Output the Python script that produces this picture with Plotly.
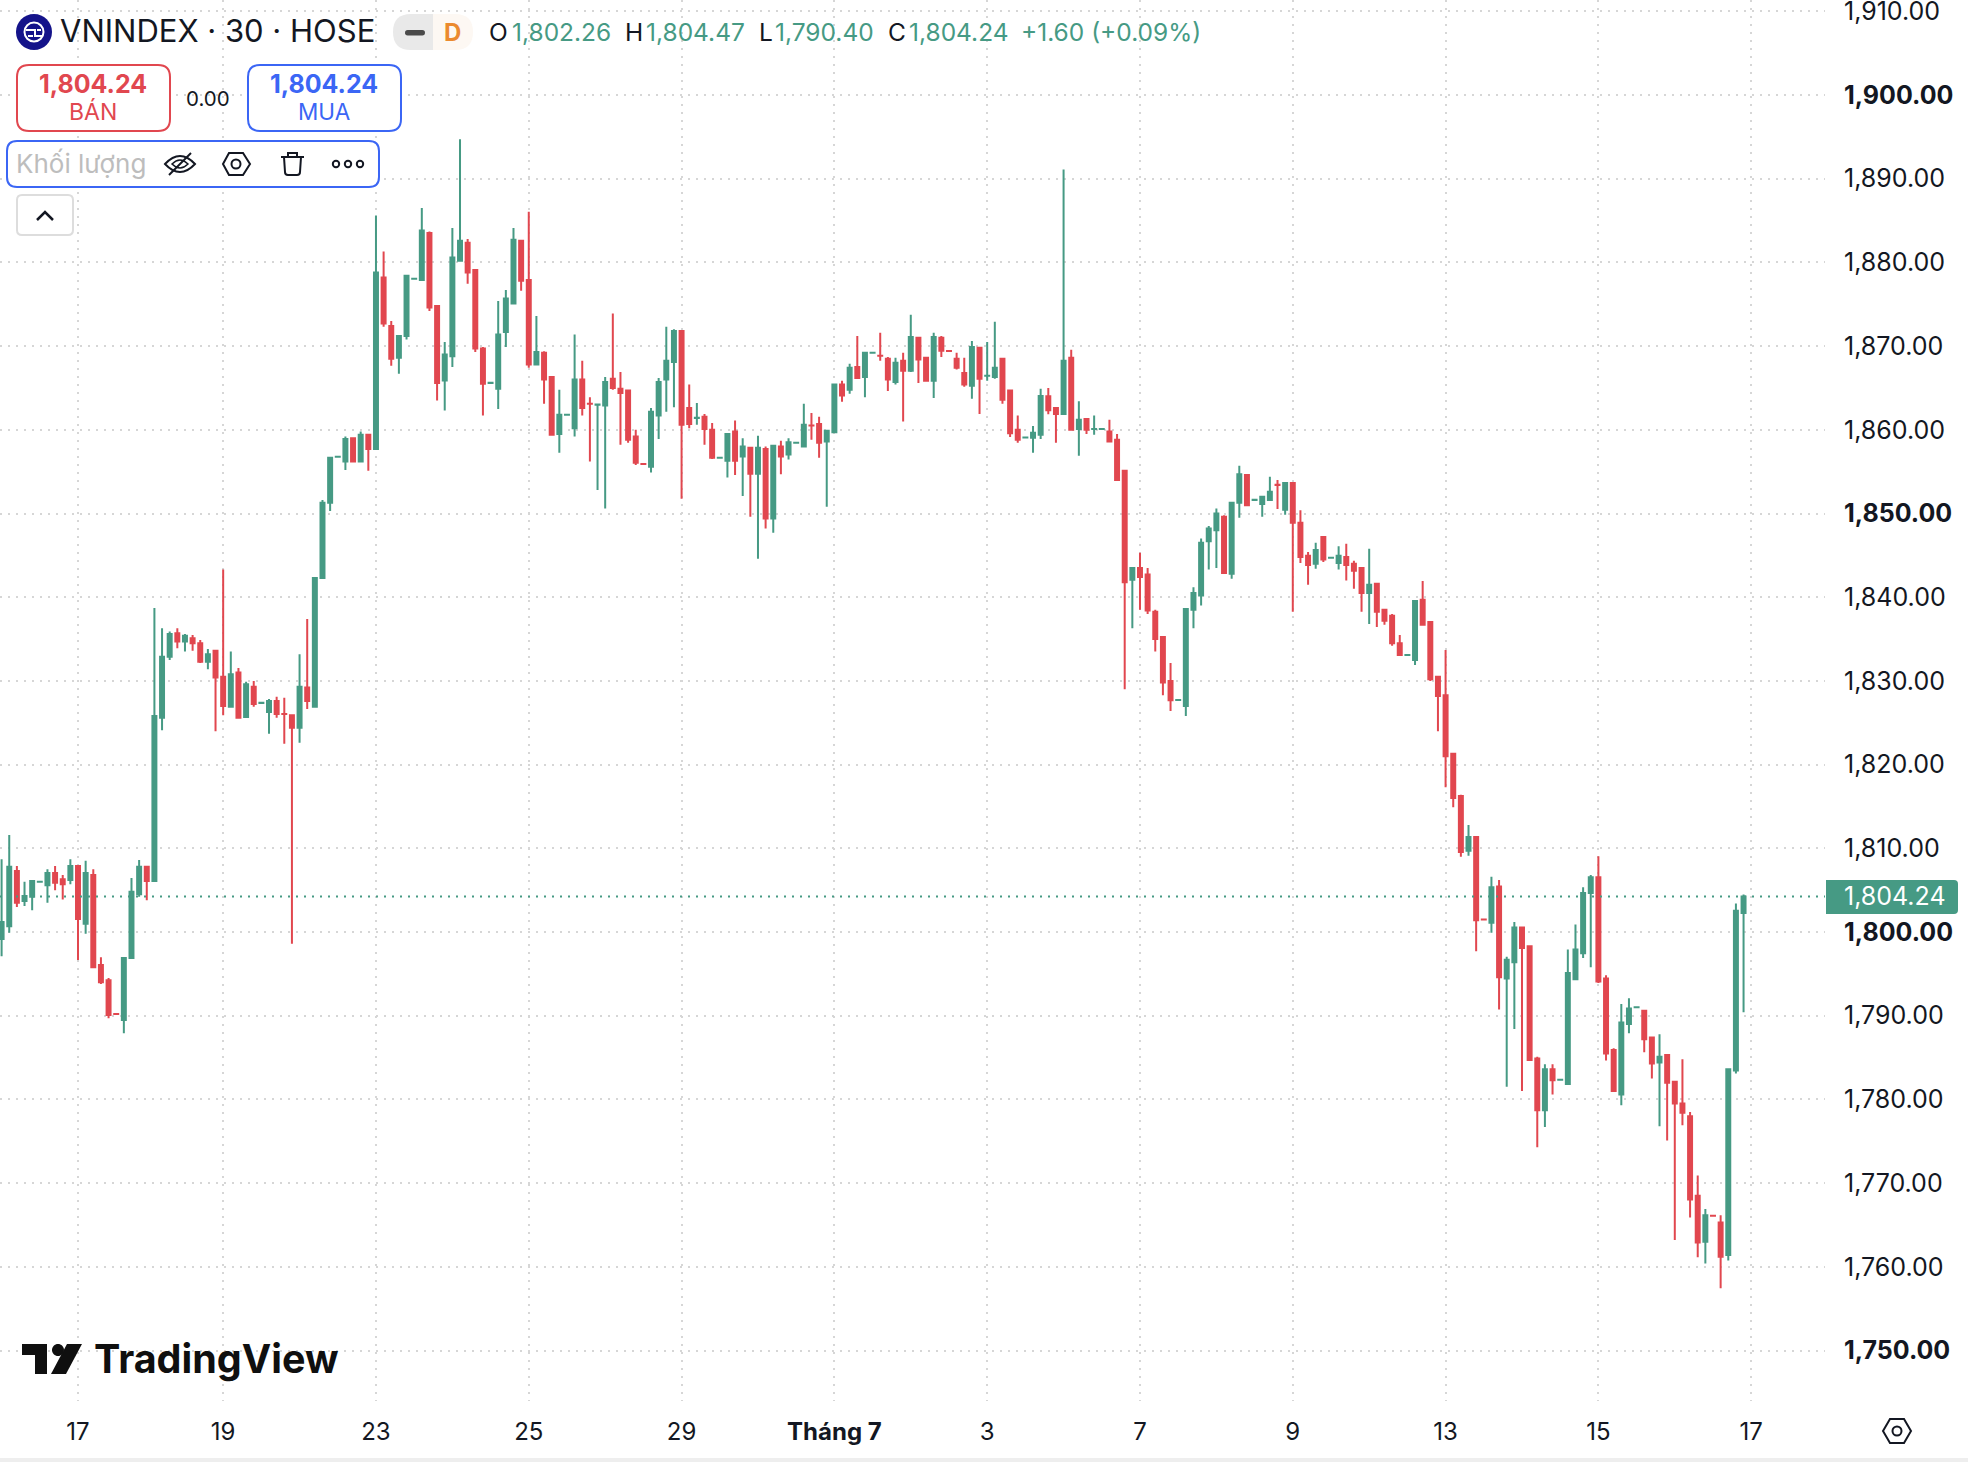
import re
import plotly.graph_objects as go

# 30-minute VNINDEX bars, one entry per session slot
open_prices = [
    1799.16, 1800.7, 1807.3, 1803.7, 1804.2, 1806.0, 1805.6, 1807.05, 1806.3, 1806.2,
    1807.9, 1801.0, 1806.8, 1796.05, 1794.25, 1790.21, 1789.5, 1796.9, 1804.5, 1807.8,
    1806.1, 1825.6, 1832.9, 1835.7, 1834.7, 1835.1, 1834.5, 1832.3, 1833.6, 1830.5,
    1826.9, 1831.0, 1825.7, 1829.3, 1827.37, 1826.3, 1827.6, 1826.05, 1825.9, 1824.4,
    1829.2, 1826.9, 1842.3, 1851.3, 1856.77, 1856.2, 1859.0, 1856.2, 1859.4, 1857.7,
    1878.2, 1872.4, 1868.6, 1871.2, 1878.05, 1877.9, 1883.5, 1874.8, 1865.9, 1868.8,
    1880.2, 1882.35, 1879.1, 1869.7, 1865.6, 1864.9, 1871.7, 1875.1, 1882.6, 1877.9,
    1867.8, 1869.2, 1866.3, 1859.5, 1861.8, 1860.2, 1866.0, 1863.11, 1863.0, 1862.9,
    1866.1, 1864.9, 1864.7, 1859.2, 1855.93, 1855.6, 1861.7, 1866.0, 1868.1, 1871.8,
    1862.6, 1861.42, 1861.55, 1860.0, 1856.65, 1856.3, 1859.8, 1856.8, 1857.85, 1854.75,
    1857.7, 1849.4, 1858.0, 1857.05, 1858.45, 1858.0, 1860.51, 1860.7, 1858.6, 1859.7,
    1865.4, 1864.8, 1867.5, 1866.3, 1869.2, 1868.86, 1868.5, 1865.7, 1868.25, 1867.05,
    1871.0, 1868.6, 1865.85, 1871.0, 1869.43, 1868.5, 1866.8, 1865.25, 1869.8, 1866.45,
    1866.3, 1868.5, 1864.7, 1860.0, 1859.07, 1859.05, 1859.4, 1864.0, 1862.6, 1861.9,
    1868.6, 1860.1, 1861.3, 1860.1, 1860.1, 1859.8, 1858.8, 1855.1, 1842.1, 1843.5,
    1842.7, 1838.25, 1835.25, 1830.0, 1827.72, 1827.0, 1838.5, 1840.2, 1846.7, 1848.0,
    1849.6, 1842.8, 1851.3, 1854.6, 1851.62, 1851.15, 1851.6, 1853.43, 1850.45, 1853.65,
    1848.9, 1844.95, 1844.0, 1847.2, 1844.7, 1844.1, 1844.8, 1844.0, 1843.5, 1840.5,
    1841.6, 1838.5, 1837.8, 1834.5, 1833.1, 1832.5, 1839.7, 1837.05, 1830.5, 1828.3,
    1821.3, 1816.25, 1809.7, 1811.35, 1801.51, 1801.1, 1805.45, 1794.45, 1796.4, 1800.55,
    1798.3, 1784.9, 1778.7, 1783.6, 1782.35, 1781.85, 1794.35, 1797.45, 1804.65, 1806.55,
    1794.45, 1785.9, 1780.6, 1789.0, 1791.0, 1790.6, 1787.4, 1784.4, 1785.3, 1782.1,
    1779.5, 1778.0, 1768.5, 1763.0, 1766.11, 1765.3, 1761.4, 1783.45, 1802.26,
]
high_prices = [
    1808.7, 1811.6, 1807.9, 1806.0, 1806.1, 1806.01, 1807.5, 1807.9, 1806.8, 1808.7,
    1807.9, 1808.5, 1807.5, 1797.0, 1794.5, 1790.21, 1796.9, 1806.45, 1808.6, 1807.8,
    1838.7, 1836.3, 1835.9, 1836.3, 1835.6, 1835.5, 1834.9, 1833.8, 1833.6, 1843.3,
    1833.5, 1831.55, 1829.9, 1830.0, 1827.38, 1827.85, 1828.1, 1828.0, 1825.9, 1833.2,
    1837.4, 1842.3, 1851.6, 1856.65, 1856.78, 1859.2, 1859.0, 1859.8, 1859.4, 1885.6,
    1881.3, 1873.0, 1871.2, 1878.4, 1878.06, 1886.5, 1883.7, 1874.8, 1870.5, 1884.1,
    1894.7, 1882.8, 1879.1, 1869.9, 1865.61, 1875.4, 1876.7, 1884.1, 1882.6, 1886.05,
    1873.6, 1869.4, 1866.3, 1864.8, 1861.81, 1871.4, 1868.25, 1863.9, 1863.1, 1866.3,
    1873.9, 1866.9, 1864.7, 1860.0, 1855.93, 1862.6, 1866.2, 1872.3, 1872.0, 1871.8,
    1865.4, 1863.2, 1861.9, 1860.8, 1856.66, 1859.5, 1861.1, 1859.0, 1857.85, 1859.3,
    1858.0, 1858.2, 1858.7, 1859.0, 1858.46, 1863.1, 1862.0, 1861.55, 1860.0, 1865.5,
    1865.85, 1867.9, 1871.2, 1869.2, 1869.21, 1871.6, 1868.7, 1868.6, 1869.2, 1873.75,
    1871.1, 1868.6, 1871.6, 1871.2, 1869.43, 1869.2, 1868.6, 1870.6, 1869.8, 1870.5,
    1872.9, 1868.5, 1864.7, 1861.7, 1859.08, 1860.45, 1864.9, 1865.0, 1862.6, 1891.1,
    1869.55, 1863.4, 1861.3, 1861.7, 1860.11, 1861.2, 1859.5, 1855.2, 1843.5, 1845.3,
    1843.5, 1838.5, 1835.25, 1832.15, 1827.73, 1838.6, 1841.2, 1847.0, 1848.5, 1850.6,
    1849.8, 1851.3, 1855.7, 1854.6, 1851.63, 1852.1, 1854.4, 1854.0, 1853.65, 1853.65,
    1850.4, 1845.4, 1846.5, 1847.2, 1844.71, 1846.1, 1846.4, 1844.35, 1843.5, 1845.8,
    1841.6, 1838.5, 1838.0, 1835.5, 1833.11, 1839.55, 1841.95, 1837.05, 1830.5, 1833.7,
    1821.4, 1816.4, 1812.8, 1811.35, 1801.51, 1806.6, 1806.2, 1797.05, 1801.2, 1800.55,
    1798.3, 1785.1, 1784.2, 1784.2, 1782.36, 1797.9, 1800.9, 1805.35, 1806.8, 1809.05,
    1794.85, 1786.1, 1791.4, 1792.1, 1791.01, 1790.6, 1787.4, 1787.8, 1785.3, 1782.1,
    1784.8, 1778.5, 1770.9, 1766.9, 1766.11, 1766.15, 1783.6, 1803.4, 1804.47,
]
low_prices = [
    1797.1, 1799.9, 1803.0, 1803.1, 1802.6, 1806.0, 1803.5, 1805.0, 1803.9, 1805.7,
    1796.65, 1799.8, 1795.7, 1793.8, 1789.7, 1790.2, 1787.9, 1796.9, 1804.2, 1803.8,
    1806.1, 1824.1, 1832.5, 1833.9, 1833.5, 1833.6, 1832.15, 1831.4, 1824.0, 1825.9,
    1826.8, 1825.5, 1825.7, 1826.9, 1827.37, 1823.7, 1825.6, 1822.5, 1798.6, 1822.6,
    1826.65, 1826.9, 1842.2, 1850.3, 1856.77, 1855.2, 1856.2, 1856.2, 1855.1, 1857.7,
    1872.3, 1867.65, 1866.7, 1870.8, 1878.05, 1877.8, 1874.2, 1863.5, 1862.3, 1867.5,
    1880.2, 1877.45, 1869.3, 1861.7, 1865.6, 1862.5, 1869.9, 1875.1, 1876.6, 1867.4,
    1867.8, 1863.1, 1859.4, 1857.25, 1861.8, 1859.2, 1861.7, 1856.2, 1852.8, 1850.6,
    1864.8, 1858.2, 1858.45, 1855.8, 1855.92, 1854.9, 1858.9, 1862.15, 1862.7, 1851.75,
    1860.2, 1860.6, 1858.2, 1856.5, 1856.65, 1854.3, 1854.6, 1852.1, 1849.6, 1844.6,
    1848.2, 1847.7, 1854.7, 1856.45, 1858.45, 1858.0, 1858.8, 1856.65, 1850.8, 1859.6,
    1863.35, 1864.3, 1866.2, 1863.9, 1869.2, 1868.25, 1864.65, 1865.4, 1861.0, 1866.9,
    1865.6, 1865.85, 1863.8, 1868.7, 1869.42, 1867.2, 1865.15, 1863.7, 1861.9, 1865.85,
    1866.1, 1863.1, 1859.15, 1858.45, 1859.07, 1857.25, 1858.9, 1861.85, 1858.45, 1861.9,
    1860.0, 1856.9, 1859.5, 1859.4, 1860.1, 1858.55, 1854.0, 1829.0, 1836.3, 1838.5,
    1838.0, 1833.5, 1828.3, 1826.4, 1827.72, 1825.8, 1836.3, 1839.0, 1843.3, 1843.5,
    1842.9, 1842.2, 1849.5, 1851.0, 1851.62, 1849.6, 1851.6, 1850.55, 1849.85, 1838.25,
    1844.1, 1841.5, 1843.4, 1844.2, 1844.7, 1843.3, 1842.0, 1841.0, 1838.25, 1836.8,
    1836.45, 1836.7, 1834.2, 1833.1, 1833.1, 1831.9, 1836.6, 1830.0, 1824.0, 1817.3,
    1814.9, 1809.0, 1809.1, 1797.7, 1801.5, 1799.9, 1790.75, 1781.5, 1788.4, 1781.0,
    1784.7, 1774.3, 1776.7, 1780.6, 1782.35, 1781.85, 1794.25, 1796.9, 1795.8, 1793.9,
    1784.65, 1781.0, 1779.3, 1787.9, 1791.0, 1785.65, 1782.5, 1776.8, 1775.1, 1763.2,
    1776.9, 1765.9, 1761.15, 1760.4, 1766.1, 1757.45, 1760.75, 1783.1, 1790.4,
]
close_prices = [
    1801.2, 1807.8, 1803.5, 1804.3, 1806.1, 1806.01, 1807.05, 1805.9, 1805.7, 1807.9,
    1801.55, 1807.05, 1795.8, 1794.0, 1790.1, 1790.2, 1796.9, 1804.8, 1807.8, 1806.1,
    1825.8, 1832.9, 1835.6, 1834.7, 1835.4, 1834.5, 1832.3, 1833.2, 1830.4, 1827.0,
    1830.8, 1825.6, 1829.6, 1827.25, 1827.38, 1827.6, 1826.05, 1826.04, 1824.4, 1829.3,
    1827.6, 1842.3, 1851.3, 1856.65, 1856.78, 1858.9, 1856.2, 1859.4, 1857.7, 1878.8,
    1872.7, 1868.5, 1871.2, 1878.4, 1878.06, 1883.8, 1874.6, 1865.6, 1869.0, 1880.6,
    1882.6, 1878.8, 1869.7, 1865.5, 1865.61, 1871.4, 1875.7, 1882.7, 1877.8, 1867.8,
    1869.3, 1866.0, 1859.4, 1861.8, 1861.81, 1866.0, 1862.6, 1863.1, 1863.01, 1865.7,
    1865.0, 1864.4, 1858.8, 1856.05, 1855.92, 1862.15, 1865.7, 1868.25, 1871.8, 1860.6,
    1860.7, 1861.43, 1860.1, 1856.65, 1856.66, 1859.5, 1856.3, 1858.0, 1854.75, 1857.85,
    1849.4, 1858.1, 1856.8, 1858.5, 1858.46, 1860.6, 1860.5, 1858.45, 1859.9, 1865.4,
    1864.1, 1867.4, 1866.2, 1869.2, 1869.21, 1868.85, 1866.0, 1868.0, 1867.05, 1871.1,
    1868.4, 1865.85, 1871.1, 1869.45, 1869.42, 1867.4, 1865.4, 1869.9, 1866.1, 1866.46,
    1867.4, 1863.6, 1859.6, 1858.8, 1859.08, 1859.65, 1864.05, 1862.35, 1861.9, 1868.25,
    1860.0, 1861.2, 1860.0, 1860.11, 1860.11, 1858.6, 1854.0, 1841.8, 1843.5, 1842.4,
    1838.4, 1835.0, 1829.8, 1827.7, 1827.73, 1838.6, 1840.5, 1846.5, 1848.2, 1850.0,
    1842.9, 1851.3, 1854.7, 1851.0, 1851.63, 1852.0, 1852.6, 1853.42, 1853.65, 1848.9,
    1844.8, 1843.85, 1845.65, 1844.5, 1844.71, 1844.95, 1843.85, 1843.15, 1840.5, 1841.5,
    1838.25, 1837.2, 1834.5, 1833.1, 1833.11, 1839.55, 1836.7, 1830.2, 1828.2, 1821.0,
    1816.0, 1809.55, 1811.35, 1801.4, 1801.5, 1805.35, 1794.6, 1796.7, 1800.55, 1798.1,
    1784.7, 1778.7, 1783.6, 1782.3, 1782.36, 1795.1, 1797.9, 1804.65, 1806.55, 1794.1,
    1785.5, 1781.0, 1789.2, 1790.85, 1791.01, 1787.2, 1784.3, 1785.1, 1782.0, 1779.5,
    1778.4, 1768.05, 1762.9, 1766.15, 1766.1, 1761.2, 1783.6, 1802.55, 1804.24,
]
bar_numbers = list(range(len(close_prices)))

# Time axis: bar number of each labelled session, and its label
date_tick_bars = [10, 29, 49, 69, 89, 109, 129, 149, 169, 189, 209, 229]
date_tick_labels = ["17", "19", "23", "25", "29", "<b>Tháng 7</b>", "3", "7", "9", "13", "15", "17"]

# Price axis: every tenth point, round fifties in bold. The topmost label sits
# against the page edge, so it is written separately below.
price_ticks = [1750, 1760, 1770, 1780, 1790, 1800, 1810, 1820, 1830, 1840, 1850,
               1860, 1870, 1880, 1890, 1900, 1910]
price_tick_labels = ["<b>1,750.00</b>", "1,760.00", "1,770.00", "1,780.00", "1,790.00",
                     "<b>1,800.00</b>", "1,810.00", "1,820.00", "1,830.00", "1,840.00",
                     "<b>1,850.00</b>", "1,860.00", "1,870.00", "1,880.00", "1,890.00",
                     "<b>1,900.00</b>", ""]

last_price = 1804.24

UP = "#469A84"
DOWN = "#E1474F"
BLUE = "#3B66F5"
INK = "#131722"
FONT = "Inter, 'Liberation Sans', sans-serif"
PLOT_W, PLOT_H = 1825, 1401


def px(x, y):
    """Header and overlay furniture is laid out in page pixels; shapes use paper units."""
    return x / PLOT_W, 1 - y / PLOT_H


def path_from_pixels(d):
    tokens = re.findall(r"[A-Za-z]|-?\d+\.?\d*", d)
    out, is_x, last_x = [], True, 0.0
    for t in tokens:
        if t.isalpha():
            out.append(t)
        elif is_x:
            last_x = float(t)
            is_x = False
        else:
            x, y = px(last_x, float(t))
            out.append(f"{x:.6f},{y:.6f}")
            is_x = True
    return " ".join(out)


def rrect(x0, y0, x1, y1, r):
    return (f"M {x0 + r} {y0} L {x1 - r} {y0} Q {x1} {y0} {x1} {y0 + r} L {x1} {y1 - r} "
            f"Q {x1} {y1} {x1 - r} {y1} L {x0 + r} {y1} Q {x0} {y1} {x0} {y1 - r} "
            f"L {x0} {y0 + r} Q {x0} {y0} {x0 + r} {y0} Z")


def circle(cx, cy, r):
    k = r * 0.5523
    return (f"M {cx - r} {cy} C {cx - r} {cy - k} {cx - k} {cy - r} {cx} {cy - r} "
            f"C {cx + k} {cy - r} {cx + r} {cy - k} {cx + r} {cy} "
            f"C {cx + r} {cy + k} {cx + k} {cy + r} {cx} {cy + r} "
            f"C {cx - k} {cy + r} {cx - r} {cy + k} {cx - r} {cy} Z")


shapes, notes = [], []


def add_path(d, fill=None, line=None, width=0):
    shapes.append(dict(type="path", xref="paper", yref="paper", layer="above",
                       path=path_from_pixels(d),
                       fillcolor=fill or "rgba(0,0,0,0)",
                       line=dict(color=line or "rgba(0,0,0,0)", width=width)))


def add_text(x, y, text, size, color, anchor="left"):
    xp, yp = px(x, y)
    notes.append(dict(xref="paper", yref="paper", x=xp, y=yp, text=text, showarrow=False,
                      xanchor=anchor, yanchor="middle", borderpad=0,
                      font=dict(family=FONT, size=size, color=color)))


fig = go.Figure(go.Candlestick(
    x=bar_numbers, open=open_prices, high=high_prices, low=low_prices, close=close_prices,
    increasing=dict(line=dict(color=UP, width=2), fillcolor=UP),
    decreasing=dict(line=dict(color=DOWN, width=2), fillcolor=DOWN),
    whiskerwidth=0, hoverinfo="skip",
))

# Dotted last-price line across the pane and its tag on the scale
shapes.append(dict(type="line", xref="paper", yref="y", x0=0, x1=1, y0=last_price, y1=last_price,
                   layer="above", line=dict(color=UP, width=2, dash="2px,6px")))
add_path("M 1826 880 L 1954 880 Q 1958 880 1958 884 L 1958 910 Q 1958 914 1954 914 L 1826 914 Z", fill=UP)
add_text(1843, 896, "1,804.24", 25, "#FFFFFF")
add_text(1843, 11, "1,910.00", 25, INK)

# Symbol line
add_path(circle(34, 32, 18), fill="#14138A")
add_path(circle(34, 32, 9.5), line="#FFFFFF", width=2)
add_path("M 26 30 L 35 30 L 35 36 L 43 36", line="#FFFFFF", width=2)
add_path("M 28 36 L 33 36 M 37 30 L 41 30", line="#FFFFFF", width=2)
add_text(59, 31, "VNINDEX · 30 · HOSE", 31, INK)
add_path("M 411 14 L 433 14 L 433 50 L 411 50 Q 393 50 393 32 Q 393 14 411 14 Z", fill="#E9E9E9")
add_path("M 433 14 L 455 14 Q 473 14 473 32 Q 473 50 455 50 L 433 50 Z", fill="#FDF8F3")
add_path(rrect(405, 30, 425, 35.5, 2.7), fill="#4A4A4A")
add_text(452, 32, "<b>D</b>", 24, "#EB8A2F", "center")

# Open, high, low, close readout
add_text(488, 32, "O", 24.5, INK)
add_text(511, 32, "1,802.26", 24.5, UP)
add_text(624, 32, "H", 24.5, INK)
add_text(645, 32, "1,804.47", 24.5, UP)
add_text(758, 32, "L", 24.5, INK)
add_text(774, 32, "1,790.40", 24.5, UP)
add_text(887, 32, "C", 24.5, INK)
add_text(908, 32, "1,804.24", 24.5, UP)
add_text(1020, 32, "+1.60 (+0.09%)", 24.5, UP)

# Sell and buy buttons
add_path(rrect(17, 65, 170, 131, 12), fill="#FFFFFF", line=DOWN, width=2)
add_text(93, 84, "<b>1,804.24</b>", 25, DOWN, "center")
add_text(93, 112, "BÁN", 23, DOWN, "center")
add_text(208, 99, "0.00", 20.5, INK, "center")
add_path(rrect(248, 65, 401, 131, 12), fill="#FFFFFF", line=BLUE, width=2)
add_text(324, 84, "<b>1,804.24</b>", 25, BLUE, "center")
add_text(324, 112, "MUA", 22.5, BLUE, "center")

# Volume indicator row with its icons
add_path(rrect(7, 141, 379, 187, 10), fill="#FFFFFF", line=BLUE, width=2)
add_text(15, 164, "Khối lượng", 26, "#BDBDBD")
add_path("M 165 164 Q 180 148 195 164 Q 180 180 165 164 Z", line=INK, width=2)
add_path("M 172 164 Q 180 156 188 164 Q 180 172 172 164 Z", line=INK, width=1.5)
add_path("M 169 175 L 191 153", line=INK, width=2)
add_path("M 223 164 L 229 153 L 243 153 L 250 164 L 243 175 L 229 175 Z", line=INK, width=2)
add_path(circle(236, 164, 4.5), line=INK, width=2)
add_path("M 281 157 L 304 157 M 288 157 L 288 153 L 297 153 L 297 157", line=INK, width=2)
add_path("M 284 157 L 285 172 Q 285 175 288 175 L 297 175 Q 300 175 300 172 L 301 157", line=INK, width=2)
for dot_x in (336, 348, 360):
    add_path(circle(dot_x, 164, 3.2), line=INK, width=2)

# Collapse button
add_path(rrect(17, 195, 73, 235, 5), fill="#FFFFFF", line="#DDDDDD", width=2)
add_path("M 37 220 L 45 212 L 53 220", line=INK, width=2.5)

# Watermark
add_path("M 22 1344 L 47 1344 L 47 1374 L 35 1374 L 35 1355 L 22 1355 Z", fill="#0F0F0F")
add_path(circle(58, 1350, 6), fill="#0F0F0F")
add_path("M 67 1344 L 82 1344 L 66 1374 L 51 1374 Z", fill="#0F0F0F")
add_text(93, 1359, "<b>TradingView</b>", 39.5, "#0F0F0F")

# Chart settings icon and the page's bottom strip
add_path("M 1883 1431 L 1890 1419 L 1904 1419 L 1911 1431 L 1904 1443 L 1890 1443 Z", line=INK, width=2)
add_path(circle(1897, 1431, 4.5), line=INK, width=2)
add_path("M 0 1458 L 1968 1458 L 1968 1462 L 0 1462 Z", fill="#EEEEEE")

fig.update_layout(
    width=1968, height=1462, autosize=False,
    margin=dict(l=0, r=1968 - PLOT_W, t=0, b=1462 - PLOT_H),
    paper_bgcolor="#FFFFFF", plot_bgcolor="#FFFFFF",
    showlegend=False, dragmode=False, hovermode=False,
    boxgap=0.48, boxgroupgap=0,
    shapes=shapes, annotations=notes,
    font=dict(family=FONT, color=INK),
)
fig.update_xaxes(
    range=[-0.21, 238.66], rangeslider_visible=False,
    tickmode="array", tickvals=date_tick_bars, ticktext=date_tick_labels,
    tickfont=dict(size=24, color=INK), ticks="", ticklabelstandoff=14,
    showgrid=True, gridcolor="#D6D6D6", gridwidth=2, griddash="2px,6px",
    showline=False, zeroline=False, fixedrange=True,
)
fig.update_yaxes(
    range=[1743.97, 1911.35], side="right",
    tickmode="array", tickvals=price_ticks, ticktext=price_tick_labels,
    tickfont=dict(size=25, color=INK), ticks="", ticklabelstandoff=18,
    showgrid=True, gridcolor="#D6D6D6", gridwidth=2, griddash="2px,6px",
    showline=False, zeroline=False, fixedrange=True,
)

fig.write_html("out.html", config=dict(displayModeBar=False))
